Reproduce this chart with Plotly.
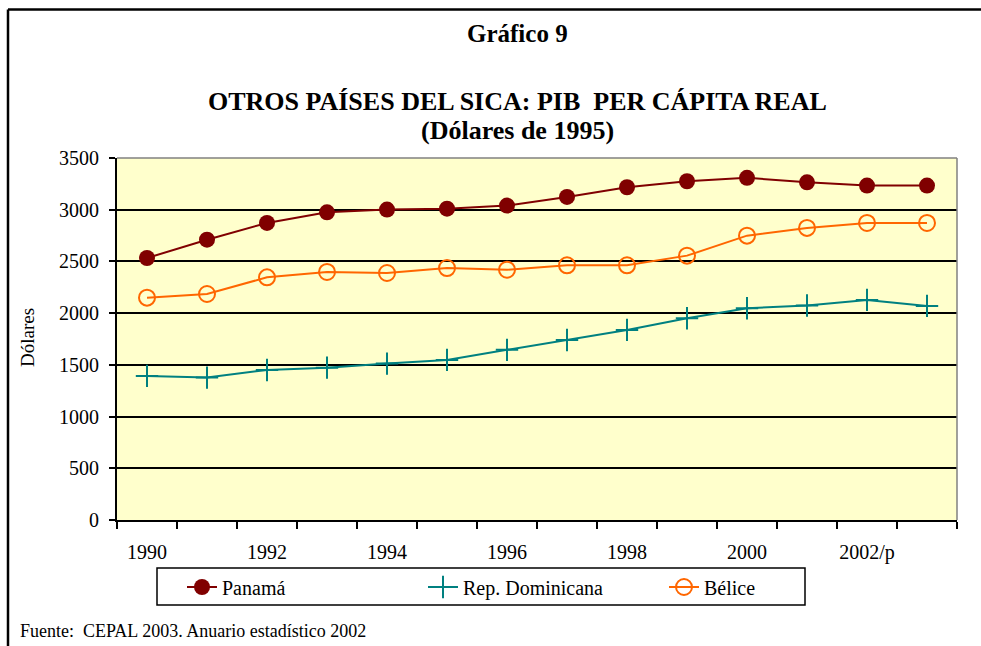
import plotly.graph_objects as go

categories = ["1990", "1991", "1992", "1993", "1994", "1995", "1996",
              "1997", "1998", "1999", "2000", "2001", "2002/p", "2003/p"]
tick_labels = ["1990", "", "1992", "", "1994", "", "1996",
               "", "1998", "", "2000", "", "2002/p", ""]

panama = [2533, 2710, 2872, 2975, 3001, 3010, 3040,
          3124, 3217, 3275, 3308, 3265, 3233, 3233]
rep_dominicana = [1393, 1377, 1451, 1473, 1512, 1548, 1645,
                  1741, 1838, 1951, 2048, 2074, 2128, 2070]
belice = [2150, 2185, 2346, 2398, 2388, 2436, 2420,
          2462, 2462, 2556, 2749, 2824, 2872, 2872]

W, H = 981, 646
L, R, T, B = 117, 957, 158, 520

def px(x):
    return (x - L) / (R - L)

def py(y):
    return (B - y) / (B - T)

FONT = "Times New Roman, Liberation Serif, serif"

fig = go.Figure()
fig.add_trace(go.Scatter(
    x=categories, y=panama, name="Panamá", mode="lines+markers",
    line=dict(color="#800000", width=2),
    marker=dict(symbol="circle", size=16, color="#800000"),
))
fig.add_trace(go.Scatter(
    x=categories, y=rep_dominicana, name="Rep. Dominicana", mode="lines+markers",
    line=dict(color="#008080", width=2),
    marker=dict(symbol="cross-thin", size=16, line=dict(color="#008080", width=2)),
))
fig.add_trace(go.Scatter(
    x=categories, y=belice, name="Bélice", mode="lines+markers",
    line=dict(color="#FF6600", width=2),
    marker=dict(symbol="circle-open", size=16, color="#FF6600", line=dict(width=2)),
))

fig.update_layout(
    width=W, height=H,
    margin=dict(l=L, r=W - R, t=T, b=H - B, pad=0, autoexpand=False),
    paper_bgcolor="white",
    plot_bgcolor="#FFFFCC",
    font=dict(family=FONT, size=18, color="black"),
    showlegend=True,
    legend=dict(
        orientation="h",
        x=px(182), y=py(587), xanchor="left", yanchor="middle",
        borderwidth=0, bgcolor="rgba(0,0,0,0)",
        font=dict(family=FONT, size=20),
        entrywidth=196, entrywidthmode="pixels",
        itemwidth=30,
    ),
    xaxis=dict(
        type="category",
        tickmode="array", tickvals=categories, ticktext=tick_labels,
        tickson="boundaries", tickangle=0,
        ticks="outside", ticklen=7, tickwidth=2, tickcolor="black",
        showgrid=False, showline=True, linecolor="black", linewidth=2,
        mirror=False, zeroline=False, automargin=False,
        tickfont=dict(family=FONT, size=20),
        ticklabelstandoff=13,
        range=[-0.5, len(categories) - 0.5],
    ),
    yaxis=dict(
        range=[0, 3500], dtick=500, tick0=0,
        ticks="outside", ticklen=6, tickwidth=2, tickcolor="black",
        showgrid=True, gridcolor="black", gridwidth=1.5,
        showline=True, linecolor="black", linewidth=2,
        zeroline=False, automargin=False,
        tickfont=dict(family=FONT, size=20),
        ticklabelstandoff=6,
    ),
)

# Legend frame
fig.add_shape(type="rect", xref="paper", yref="paper",
              x0=px(157), x1=px(805), y0=py(568), y1=py(605),
              line=dict(color="black", width=1.5), fillcolor="rgba(0,0,0,0)",
              layer="below")

# Y axis title
fig.add_annotation(text="Dólares", xref="paper", yref="paper",
                   x=px(27), y=py(338), textangle=-90, showarrow=False,
                   xanchor="center", yanchor="middle",
                   font=dict(family=FONT, size=19))

# Plot area thin grey frame (top and right)
fig.add_shape(type="line", xref="paper", yref="paper", x0=0, x1=1, y0=1, y1=1,
              line=dict(color="#808080", width=1.5))
fig.add_shape(type="line", xref="paper", yref="paper", x0=1, x1=1, y0=0, y1=1,
              line=dict(color="#808080", width=1.5))

# Outer frame (top and left)
fig.add_shape(type="line", xref="paper", yref="paper",
              x0=px(8), x1=px(981), y0=py(9.5), y1=py(9.5),
              line=dict(color="black", width=2.5))
fig.add_shape(type="line", xref="paper", yref="paper",
              x0=px(8), x1=px(8), y0=py(9.5), y1=py(646),
              line=dict(color="black", width=2.5))

fig.add_annotation(text="<b>Gráfico 9</b>", xref="paper", yref="paper",
                   x=px(517), y=py(33), showarrow=False,
                   xanchor="center", yanchor="middle",
                   font=dict(family=FONT, size=25))
fig.add_annotation(text="<b>OTROS PAÍSES DEL SICA: PIB  PER CÁPITA REAL</b>",
                   xref="paper", yref="paper", x=px(517), y=py(101), showarrow=False,
                   xanchor="center", yanchor="middle",
                   font=dict(family=FONT, size=26))
fig.add_annotation(text="<b>(Dólares de 1995)</b>",
                   xref="paper", yref="paper", x=px(517), y=py(131), showarrow=False,
                   xanchor="center", yanchor="middle",
                   font=dict(family=FONT, size=26))
fig.add_annotation(text="Fuente:  CEPAL 2003. Anuario estadístico 2002",
                   xref="paper", yref="paper", x=px(18), y=py(631),
                   xanchor="left", yanchor="middle", showarrow=False,
                   font=dict(family=FONT, size=18))

fig.write_html("out.html", config={"displayModeBar": False},
               post_script="document.body.style.margin='0';")
